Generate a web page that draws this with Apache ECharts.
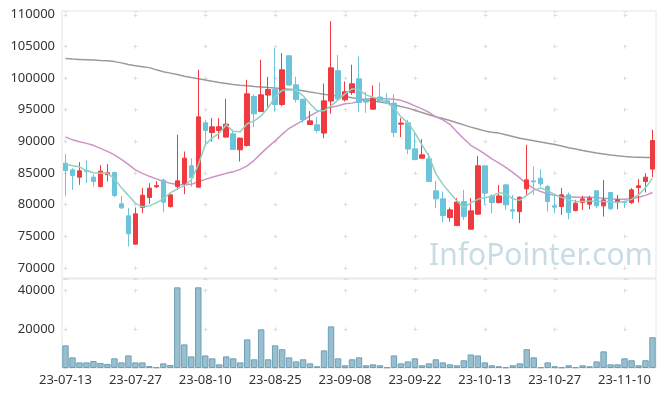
<!DOCTYPE html>
<html>
<head>
<meta charset="UTF-8">
<title>candle</title>
<script src="https://cdn.jsdelivr.net/npm/echarts@6/dist/echarts.min.js"></script>
<style>
    body { margin: 0; padding: 0; background: #fff; }
    #main { width: 665px; height: 397px; }
</style>
</head>
<body>
<div id="main"></div>
<script type="text/javascript">
    const dates = [
        '23-07-13', '23-07-14', '23-07-17', '23-07-18', '23-07-19', '23-07-20', '23-07-21', '23-07-24', '23-07-25', '23-07-26',
        '23-07-27', '23-07-28', '23-07-31', '23-08-01', '23-08-02', '23-08-03', '23-08-04', '23-08-07', '23-08-08', '23-08-09',
        '23-08-10', '23-08-11', '23-08-14', '23-08-16', '23-08-17', '23-08-18', '23-08-21', '23-08-22', '23-08-23', '23-08-24',
        '23-08-25', '23-08-28', '23-08-29', '23-08-30', '23-08-31', '23-09-01', '23-09-04', '23-09-05', '23-09-06', '23-09-07',
        '23-09-08', '23-09-11', '23-09-12', '23-09-13', '23-09-14', '23-09-15', '23-09-18', '23-09-19', '23-09-20', '23-09-21',
        '23-09-22', '23-09-25', '23-09-26', '23-09-27', '23-10-04', '23-10-05', '23-10-06', '23-10-10', '23-10-11', '23-10-12',
        '23-10-13', '23-10-16', '23-10-17', '23-10-18', '23-10-19', '23-10-20', '23-10-23', '23-10-24', '23-10-25', '23-10-26',
        '23-10-27', '23-10-30', '23-10-31', '23-11-01', '23-11-02', '23-11-03', '23-11-06', '23-11-07', '23-11-08', '23-11-09',
        '23-11-10', '23-11-13', '23-11-14', '23-11-15', '23-11-16'
    ];

    // open, close, low, high
    const ohlc = [
        [86550, 85380, 81380, 87980], [85490, 84590, 82330, 85760], [84340, 85340, 83120, 86710], [85400, 85250, 83390, 86970],
        [84340, 83650, 82850, 84750], [82850, 85290, 82700, 86240], [84750, 85020, 83650, 86400], [85070, 81430, 81180, 85200],
        [80120, 79490, 79300, 81380], [78220, 75380, 73370, 79440], [73750, 78540, 73700, 79540], [79540, 81490, 78650, 82600],
        [81120, 82600, 80120, 83390], [82810, 83010, 82650, 83710], [83870, 80390, 78810, 84100], [79690, 81540, 79540, 81600],
        [82850, 83760, 82330, 91030], [83280, 87340, 81650, 88390], [86130, 84280, 82850, 87340], [82760, 93870, 82700, 101300],
        [92930, 91710, 89180, 93400], [91390, 92290, 89970, 93670], [91700, 92300, 90350, 93670], [90670, 92720, 90600, 96720],
        [91190, 88700, 88650, 91820], [88660, 90510, 86810, 90600], [89340, 97510, 89180, 99720], [97080, 94350, 92250, 97350],
        [94710, 97350, 94600, 102890], [97310, 98190, 95460, 100200], [98190, 95820, 94710, 104780], [95820, 101300, 95570, 103950],
        [103520, 98890, 98800, 103600], [98930, 96610, 96140, 100200], [96670, 93450, 92930, 96700], [92660, 93240, 92600, 94780],
        [92610, 91710, 91390, 93870], [91300, 96400, 90510, 99140], [96360, 101620, 94350, 109000], [101150, 96700, 96600, 103630],
        [96560, 97830, 96290, 99460], [97720, 99090, 97350, 102100], [99880, 96140, 94620, 103410], [96700, 96200, 94510, 97800],
        [95090, 96830, 95000, 98820], [97000, 96370, 96320, 99300], [96400, 96040, 95900, 97620], [96040, 91390, 90670, 97460],
        [92720, 92880, 90670, 93670], [92930, 88770, 87980, 93400], [88820, 87120, 87000, 91340], [87340, 87870, 87300, 90350],
        [87230, 83650, 83600, 88140], [82180, 80910, 79440, 83760], [80910, 78270, 77230, 82060], [77950, 79170, 77320, 79540],
        [76690, 80390, 76600, 81020], [80480, 78110, 77590, 82330], [76120, 79010, 76000, 81020], [78490, 86130, 78400, 87710],
        [86130, 81810, 79960, 86200], [81380, 80320, 78650, 81650], [80320, 81380, 80200, 83120], [83120, 79960, 79170, 83200],
        [79170, 78970, 77700, 81540], [78900, 81180, 77070, 81300], [82490, 83910, 81540, 89450], [83760, 83600, 81540, 86020],
        [84180, 83280, 82850, 85610], [82850, 80480, 78900, 83120], [79800, 79600, 78650, 81380], [79690, 81540, 78380, 82600],
        [81540, 78740, 77700, 81910], [79060, 80230, 78950, 80750], [80320, 80910, 79170, 81380], [80070, 81020, 79280, 81380],
        [82180, 79800, 79440, 82300], [79800, 80750, 78110, 83910], [81910, 79330, 79200, 82000], [80320, 80750, 79280, 81540],
        [80480, 80320, 79440, 80600], [80320, 82330, 80120, 82600], [82700, 82970, 80320, 84020], [83650, 84340, 81910, 84970],
        [85610, 90130, 84340, 91820]
    ];

    const volumes = [
        11700, 5500, 2900, 2900, 3600, 2600, 2100, 5000, 2900, 6500,
        2900, 2900, 1000, 350, 2400, 1550, 41700, 12200, 6000, 41700,
        6500, 5000, 1900, 6000, 5000, 2900, 14800, 4500, 20000, 4500,
        11700, 9700, 5500, 3400, 4500, 2400, 900, 9100, 21500, 5000,
        1400, 4500, 5500, 1400, 1900, 1400, 350, 6500, 2400, 3400,
        5000, 1400, 2400, 4500, 2900, 1900, 1400, 4000, 7000, 6500,
        2900, 1400, 900, 350, 1400, 2400, 9700, 5500, 350, 2900,
        900, 350, 1400, 350, 1400, 900, 3400, 8600, 1900, 1900,
        5000, 4000, 1400, 4000, 15900
    ];

    const ma5 = [
        86440, 86130, 85970, 85340, 85020, 84970, 84940, 84150, 82650, 81460,
        80200, 79650, 79800, 80280, 80910, 81860, 82490, 82970, 83910, 86290,
        89450, 90550, 91270, 92610, 91580, 91500, 92770, 93240, 94030, 95300,
        97040, 98060, 98100, 98100, 97190, 95930, 94820, 94820, 95610, 96560,
        97510, 98300, 98140, 97350, 96960, 96640, 96090, 95300, 93870, 92930,
        91340, 89450, 87710, 84860, 83200, 81860, 80590, 79490, 80280, 80830,
        81070, 81300, 81860, 81700, 80910, 80670, 81460, 82250, 82650, 82170,
        81620, 81150, 80750, 80510, 80510, 80590, 80510, 80510, 80440, 80390,
        80510, 80830, 81540, 82650, 84180
    ];

    const ma20 = [
        90710, 90240, 89920, 89680, 89370, 88890, 88420, 87870, 87150, 86360,
        85490, 84940, 84470, 84070, 83680, 83360, 83170, 83120, 83200, 83600,
        83990, 84310, 84630, 84940, 85180, 85570, 86130, 87000, 88100, 89130,
        90080, 91110, 92060, 92690, 93320, 94030, 94660, 95140, 95380, 95610,
        95930, 96040, 96320, 96640, 96720, 96720, 96720, 96640, 96480, 96090,
        95610, 95140, 94590, 93870, 93400, 92690, 91500, 90400, 89370, 88740,
        88020, 87230, 86600, 85890, 85100, 84230, 83280, 82570, 82060, 81700,
        81460, 81300, 81230, 81180, 81150, 81150, 81070, 80990, 80910, 80860,
        80830, 80910, 81150, 81460, 81910
    ];

    const ma60 = [
        103100, 103000, 102950, 102900, 102850, 102780, 102720, 102600, 102400, 102150,
        101950, 101800, 101650, 101300, 101000, 100780, 100550, 100300, 100080, 99880,
        99680, 99480, 99300, 99150, 99000, 98880, 98780, 98680, 98590, 98500,
        98420, 98330, 98240, 98150, 98000, 97800, 97620, 97450, 97300, 97170,
        97080, 96900, 96730, 96560, 96380, 96200, 96040, 95800, 95500, 95250,
        94900, 94550, 94190, 93900, 93620, 93300, 92950, 92600, 92250, 91950,
        91650, 91450, 91300, 91050, 90780, 90500, 90300, 90100, 89900, 89700,
        89500, 89250, 89000, 88800, 88550, 88350, 88150, 88000, 87850, 87720,
        87620, 87540, 87500, 87460, 87440
    ];

    const UP = '#ef3a40';
    const DOWN = '#6cc4da';
    const FONT = '"Noto Sans", sans-serif';
    const CROSS = '#dedede';

    const chart = echarts.init(document.getElementById('main'), null, {renderer: 'canvas'});

    // plain numbers, no thousands separator
    const plain = v => String(Math.round(v));

    const option = {
        animation: false,
        backgroundColor: '#fff',
        graphic: [{
            type: 'text',
            left: 429,
            top: 241,
            z: 0,
            style: {
                text: 'InfoPointer.com',
                fill: '#c8dce7',
                font: '30px ' + FONT
            }
        }],
        grid: [
            {left: 62, right: 9, top: 11, height: 267, show: true, borderColor: '#e6e6e6', borderWidth: 1},
            {left: 62, right: 9, top: 279, height: 89, show: true, borderColor: '#e6e6e6', borderWidth: 1}
        ],
        xAxis: [
            {
                type: 'category', gridIndex: 0, data: dates, boundaryGap: true,
                axisLine: {show: false}, axisTick: {show: false}, axisLabel: {show: false},
                splitLine: {
                    show: true, interval: 9, alignWithLabel: true,
                    lineStyle: {color: CROSS, width: 1, type: [4, 27.63], dashOffset: -2}
                }
            },
            {
                type: 'category', gridIndex: 1, data: dates, boundaryGap: true,
                axisLine: {show: false}, axisTick: {show: false},
                axisLabel: {interval: 9, color: '#333', fontSize: 13, fontFamily: FONT, margin: 6},
                splitLine: {
                    show: true, interval: 9, alignWithLabel: true,
                    lineStyle: {color: CROSS, width: 1, type: [4, 34.6], dashOffset: -9.7}
                }
            }
        ],
        yAxis: [
            {
                type: 'value', gridIndex: 0, min: 68400, max: 110600, splitNumber: 8,
                axisLine: {show: false}, axisTick: {show: false},
                axisLabel: {
                    color: '#333', fontSize: 13, fontFamily: FONT, margin: 7,
                    showMinLabel: false, showMaxLabel: false, formatter: plain
                },
                splitLine: {lineStyle: {color: CROSS, width: 1, type: [4, 66], dashOffset: -1.5}}
            },
            {
                type: 'value', gridIndex: 1, min: 0, max: 46000, interval: 20000,
                axisLine: {show: false}, axisTick: {show: false},
                axisLabel: {
                    color: '#333', fontSize: 13, fontFamily: FONT, margin: 7,
                    showMinLabel: false, showMaxLabel: false, formatter: plain
                },
                splitLine: {lineStyle: {color: CROSS, width: 1, type: [4, 66], dashOffset: -1.5}}
            }
        ],
        series: [
            {
                name: 'MA60', type: 'line', data: ma60, xAxisIndex: 0, yAxisIndex: 0,
                symbol: 'none', lineStyle: {color: '#9a9a9a', width: 1.5}, z: 2
            },
            {
                name: 'MA20', type: 'line', data: ma20, xAxisIndex: 0, yAxisIndex: 0,
                symbol: 'none', lineStyle: {color: '#cc94c6', width: 1.5}, z: 2
            },
            {
                name: 'candle', type: 'candlestick', data: ohlc, xAxisIndex: 0, yAxisIndex: 0,
                barWidth: 5,
                itemStyle: {color: UP, color0: DOWN, borderColor: UP, borderColor0: DOWN, borderWidth: 1},
                z: 3
            },
            {
                name: 'MA5', type: 'line', data: ma5, xAxisIndex: 0, yAxisIndex: 0,
                symbol: 'none', lineStyle: {color: '#8fd0c2', width: 1.5}, z: 4
            },
            {
                name: 'volume', type: 'bar', data: volumes, xAxisIndex: 1, yAxisIndex: 1,
                barCategoryGap: '8%',
                itemStyle: {color: '#98bfd0', borderColor: '#6f9fb4', borderWidth: 1}
            }
        ]
    };

    chart.setOption(option);
</script>
</body>
</html>
